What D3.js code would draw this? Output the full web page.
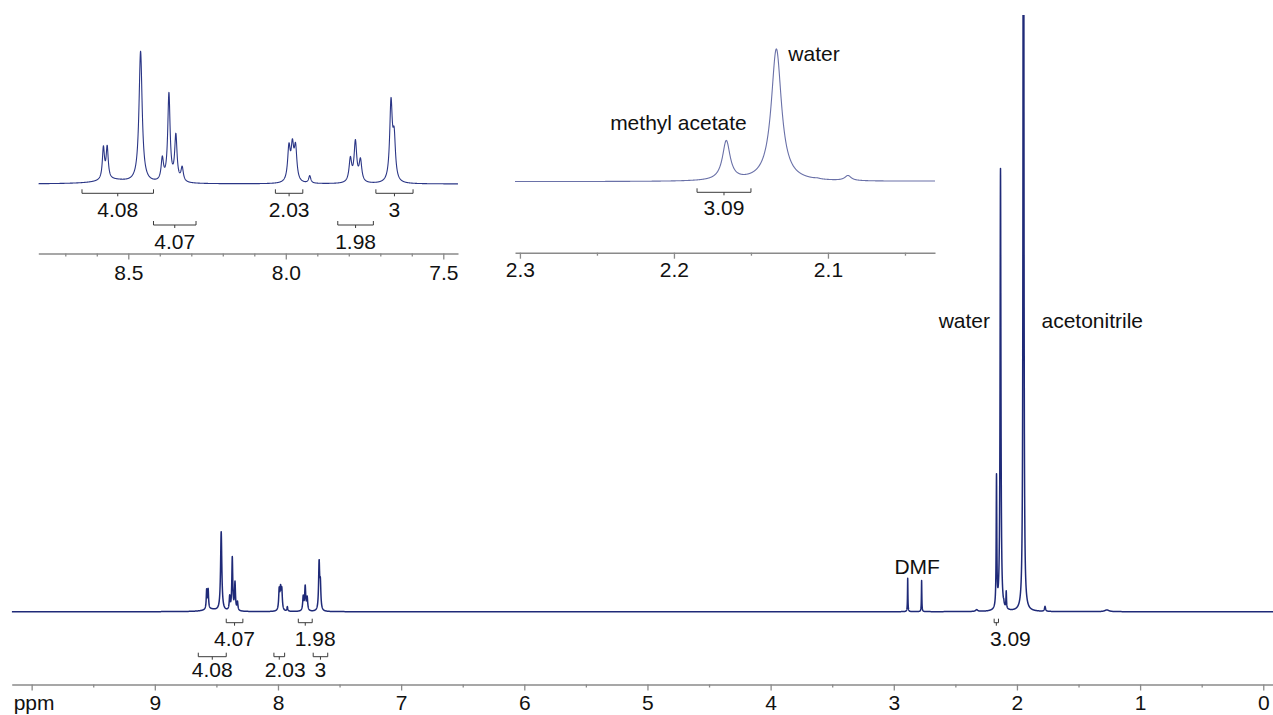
<!DOCTYPE html>
<html><head><meta charset="utf-8">
<script src="https://cdn.jsdelivr.net/npm/d3@7/dist/d3.min.js"></script>
<style>html,body{margin:0;padding:0;background:#fff;} svg{display:block;}</style>
</head><body>
<svg id="chart" width="1273" height="715"></svg>
<script>
// ---------------- data ----------------
// peak list: chemical shift (ppm), height (water peak ~ 100), half width at half max (ppm)
const peakPpm = [8.55, 8.579, 8.567, 8.461, 8.392, 8.371, 8.349, 8.329,
  7.990, 7.979, 7.969, 7.924, 7.795, 7.779, 7.763, 7.666, 7.656,
  2.887, 2.774, 2.327, 2.166, 2.1335, 2.107, 2.087, 1.947, 1.772, 1.27];
const peakHeight = [0.5, 4.3, 4.3, 17.8, 3.0, 11.9, 6.2, 1.9,
  4.55, 4.45, 4.45, 1.0, 3.14, 5.45, 2.94, 10.58, 5.58,
  7.5, 7.0, 0.4, 29.5, 99.5, 0.5, 3.8, 400, 1.1, 0.4];
const peakHalfWidth = [0.06, 0.004, 0.004, 0.006, 0.0045, 0.0045, 0.0045, 0.0045,
  0.005, 0.005, 0.005, 0.004, 0.005, 0.005, 0.005, 0.005, 0.005,
  0.002, 0.002, 0.01, 0.003, 0.004, 0.002, 0.0025, 0.0025, 0.005, 0.02];

// integrals
const integralFrom  = [8.647, 8.420, 8.033, 7.835, 7.714, 2.185];
const integralTo    = [8.420, 8.285, 7.946, 7.722, 7.596, 2.150];
const integralValue = ["4.08", "4.07", "2.03", "1.98", "3", "3.09"];
const integralRowMain  = [1, 0, 1, 0, 1, 0];   // 0 = upper row
const integralRowInset = [0, 1, 0, 1, 0, 0];

// axes
const mainTickValues = [10, 9, 8, 7, 6, 5, 4, 3, 2, 1, 0];
const mainTickLabels = ["ppm", "9", "8", "7", "6", "5", "4", "3", "2", "1", "0"];
const mainMinorTicks = [9.5, 8.5, 7.5, 6.5, 5.5, 4.5, 3.5, 2.5, 1.5, 0.5];
const inset1TickValues = [8.5, 8.0, 7.5];
const inset1TickLabels = ["8.5", "8.0", "7.5"];
const inset1MinorTicks = [8.7, 8.6, 8.4, 8.3, 8.2, 8.1, 7.9, 7.8, 7.7, 7.6];
const inset2TickValues = [2.3, 2.2, 2.1];
const inset2TickLabels = ["2.3", "2.2", "2.1"];
const inset2MinorTicks = [2.25, 2.15, 2.05];

// annotation labels
const annotText = ["water", "acetonitrile", "DMF", "methyl acetate", "water"];

// ---------------- rendering ----------------
const FONT = '"Liberation Sans", Arial, Helvetica, sans-serif';
const FS = 21;
const svg = d3.select("#chart");

function intensity(p) {
  let s = 0;
  for (let i = 0; i < peakPpm.length; i++) {
    const d = (p - peakPpm[i]) / peakHalfWidth[i];
    s += peakHeight[i] / (1 + d * d);
  }
  return s;
}
function sample(hi, lo, step) {
  const out = [];
  for (let p = hi; p >= lo - 1e-9; p -= step) out.push([p, intensity(p)]);
  return out;
}

const defs = svg.append("defs");
function clip(id, x, y, w, h) {
  defs.append("clipPath").attr("id", id).append("rect")
    .attr("x", x).attr("y", y).attr("width", w).attr("height", h);
  return "url(#" + id + ")";
}

function drawBracket(g, x0, x1, y, label, shift, textBaseline) {
  const c = (x0 + x1) / 2;
  const path = `M${x0},${y - 4}V${y}H${x1}V${y - 4}M${c},${y}V${y + 3}`;
  g.append("path").attr("d", path).attr("fill", "none")
    .attr("stroke", "#3a3a3a").attr("stroke-width", 1);
  g.append("text").attr("x", c + shift).attr("y", textBaseline)
    .attr("text-anchor", "middle").attr("font-family", FONT).attr("font-size", FS)
    .attr("fill", "#111").text(label);
}

function drawAxis(g, scale, y, majors, labels, minors, pad) {
  const ax = d3.axisBottom(scale).tickValues(majors)
    .tickFormat((d, i) => labels[i]).tickSize(6).tickSizeOuter(0).tickPadding(pad);
  const ga = g.append("g").attr("transform", `translate(0,${y})`).call(ax);
  ga.select(".domain").attr("stroke", "#8a8a8a").attr("stroke-width", 1.6);
  ga.selectAll(".tick line").attr("stroke", "#8a8a8a").attr("stroke-width", 1.3);
  ga.selectAll(".tick text").attr("font-family", FONT).attr("font-size", FS).attr("fill", "#111");
  const am = d3.axisBottom(scale).tickValues(minors).tickFormat("").tickSize(3).tickSizeOuter(0);
  const gm = g.append("g").attr("transform", `translate(0,${y})`).call(am);
  gm.select(".domain").remove();
  gm.selectAll(".tick line").attr("stroke", "#8a8a8a").attr("stroke-width", 1.3);
  return ga;
}

// ---------- main spectrum ----------
const xMain = d3.scaleLinear().domain([10.162, -0.079]).range([11.7, 1273]);
const yMain = d3.scaleLinear().domain([0, 100]).range([611.7, 611.7 - 444]);
const gMain = svg.append("g");
const mainData = sample(10.162, -0.079, 0.0005);
gMain.append("path").datum(mainData)
  .attr("clip-path", clip("cMain", 11.7, 15, 1262, 620))
  .attr("d", d3.line().x(d => xMain(d[0])).y(d => yMain(d[1])))
  .attr("fill", "none").attr("stroke", "#1f2a78").attr("stroke-width", 1.5)
  .attr("stroke-linejoin", "round");
const mainAx = drawAxis(gMain, xMain, 684.5, mainTickValues, mainTickLabels, mainMinorTicks, 4.6);
mainAx.selectAll(".tick text").filter((d, i) => i === 0)
  .attr("text-anchor", "start").attr("x", -18.5);

const mainShift = {"2.03": 6, "1.98": 10, "3.09": 14};
integralValue.forEach((v, i) => {
  const row = integralRowMain[i];
  const y = row === 0 ? 622.7 : 656.7;
  const tb = row === 0 ? 646 : 676.5;
  drawBracket(gMain, xMain(integralFrom[i]), xMain(integralTo[i]), y, v, mainShift[v] || 0, tb);
});

function annot(g, text, x, y, anchor) {
  g.append("text").attr("x", x).attr("y", y).attr("text-anchor", anchor)
    .attr("font-family", FONT).attr("font-size", FS).attr("fill", "#111").text(text);
}
annot(gMain, annotText[0], xMain(peakPpm[21]) - 10.5, 328, "end");
annot(gMain, annotText[1], xMain(peakPpm[24]) + 18, 328, "start");
annot(gMain, annotText[2], (xMain(peakPpm[17]) + xMain(peakPpm[18])) / 2 + 2.5, 574, "middle");

// ---------- inset 1 (aromatic) ----------
const x1 = d3.scaleLinear().domain([8.7857, 7.4533]).range([38.3, 458]);
const y1 = d3.scaleLinear().domain([0, 100]).range([184, 184 - 737]);
const g1 = svg.append("g");
g1.append("path").datum(sample(8.7857, 7.4533, 0.0003))
  .attr("clip-path", clip("c1", 38.3, 0, 420, 300))
  .attr("d", d3.line().x(d => x1(d[0])).y(d => y1(d[1])))
  .attr("fill", "none").attr("stroke", "#2b3686").attr("stroke-width", 1.1)
  .attr("stroke-linejoin", "round");
drawAxis(g1, x1, 253.5, inset1TickValues, inset1TickLabels, inset1MinorTicks, 5.2);
integralValue.forEach((v, i) => {
  if (integralFrom[i] < 7.4) return;
  const row = integralRowInset[i];
  const y = row === 0 ? 193.3 : 225;
  const tb = row === 0 ? 217 : 248.5;
  drawBracket(g1, x1(integralFrom[i]), x1(integralTo[i]), y, v, 0, tb);
});

// ---------- inset 2 (2.0 - 2.3 ppm) ----------
const x2 = d3.scaleLinear().domain([2.3032, 2.0305]).range([515, 935]);
const y2 = d3.scaleLinear().domain([0, 100]).range([181.7, 181.7 - 133]);
const g2 = svg.append("g");
g2.append("path").datum(sample(2.3032, 2.0305, 0.0001))
  .attr("clip-path", clip("c2", 515, 0, 420, 300))
  .attr("d", d3.line().x(d => x2(d[0])).y(d => y2(d[1])))
  .attr("fill", "none").attr("stroke", "#6a71a8").attr("stroke-width", 1.1)
  .attr("stroke-linejoin", "round");
drawAxis(g2, x2, 252.7, inset2TickValues, inset2TickLabels, inset2MinorTicks, 3.4);
integralValue.forEach((v, i) => {
  if (integralFrom[i] > 2.3 || integralTo[i] < 2.03) return;
  drawBracket(g2, x2(integralFrom[i]), x2(integralTo[i]), 192.3, v, 0, 215);
});
annot(g2, annotText[3], x2(peakPpm[20]) + 20.4, 130, "end");
annot(g2, annotText[4], x2(peakPpm[21]) + 12, 60.7, "start");
</script>
</body></html>
